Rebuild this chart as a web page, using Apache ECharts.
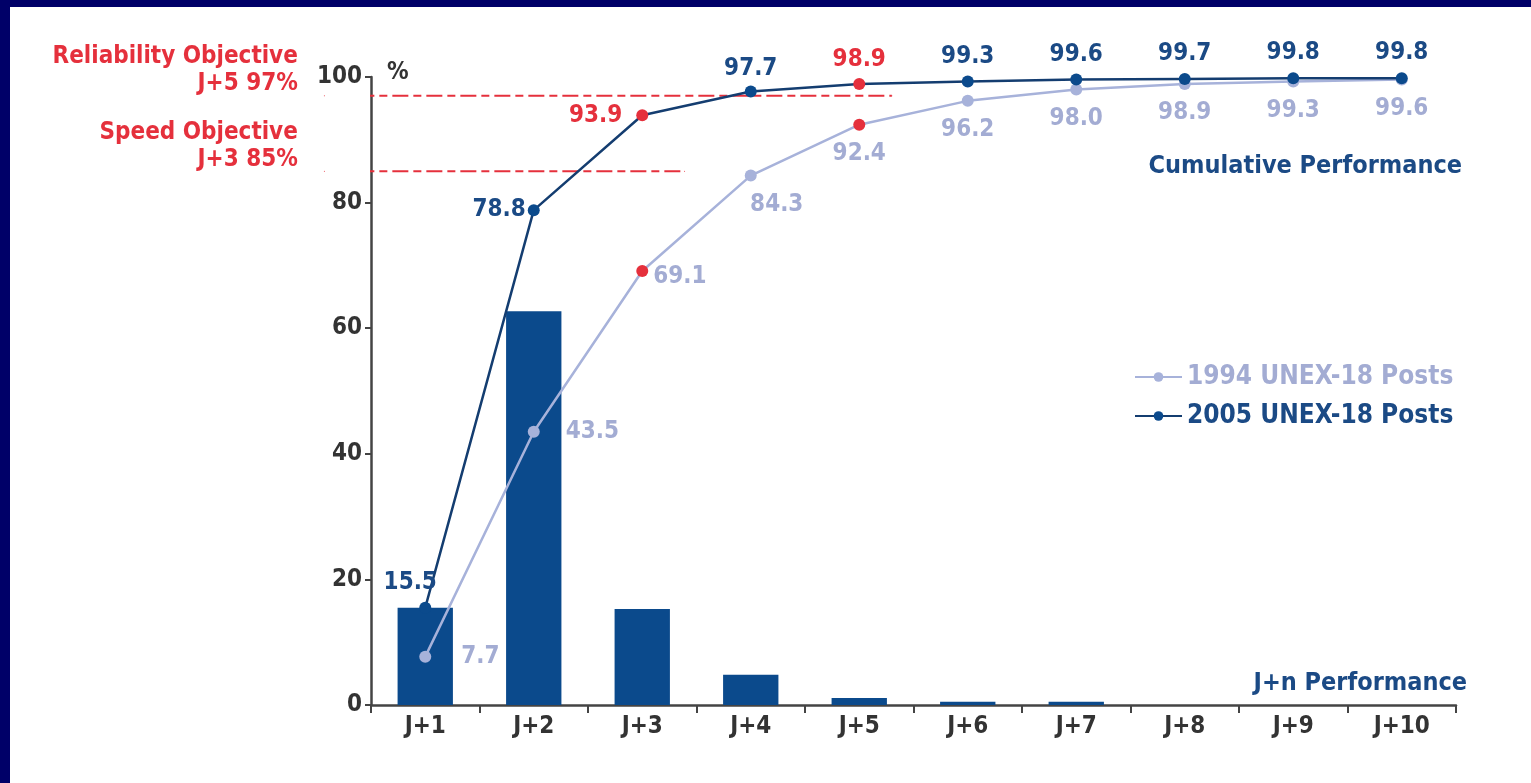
<!DOCTYPE html>
<html><head><meta charset="utf-8">
<script src="https://cdn.jsdelivr.net/npm/echarts@6/dist/echarts.min.js"></script>
<style>
html,body{margin:0;padding:0;background:#fff;}
#c{position:absolute;left:0;top:0;width:1531px;height:783px;}
.bl{position:absolute;left:0;top:0;width:10px;height:783px;background:#000068;z-index:5}
.bt{position:absolute;left:0;top:0;width:1531px;height:7px;background:#000068;z-index:5}
</style></head><body>
<div id="c"></div><div class="bl"></div><div class="bt"></div>
<script>
// ---- data ----
const categories = ['J+1','J+2','J+3','J+4','J+5','J+6','J+7','J+8','J+9','J+10'];
const daily2005 = [15.5, 62.7, 15.3, 4.8, 1.1, 0.5, 0.5, 0, 0, 0];
const cum2005 = [15.5, 78.8, 93.9, 97.7, 98.9, 99.3, 99.6, 99.7, 99.8, 99.8];
const cum1994 = [7.7, 43.5, 69.1, 84.3, 92.4, 96.2, 98.0, 98.9, 99.3, 99.6];
const objectiveCats = ['J+3', 'J+5'];
const reliabilityObjective = 97;
const speedObjective = 85;
const reliabilitySpan = [-0.43, 4.8];
const speedSpan = [-0.43, 2.89];
const yTicks = [0, 20, 40, 60, 80, 100];
const seriesNames = ['1994 UNEX-18 Posts', '2005 UNEX-18 Posts'];

// ---- styles ----
const FONT = "'Liberation Sans Narrow','DejaVu Sans Condensed','Roboto Condensed',sans-serif";
const NAVY = '#0b4a8c', NAVY_LINE = '#143d70', NAVY_TXT = '#1b4a85';
const LIGHT = '#a7b2da', LIGHT_TXT = '#a3acd3';
const RED = '#e5303c';

const lab2005 = [
  {position:'top', distance:7, offset:[-15,0]},
  {position:'left', distance:2},
  {position:'left', distance:14},
  {position:'top', distance:5},
  {position:'top', distance:6},
  {position:'top', distance:7},
  {position:'top', distance:7},
  {position:'top', distance:7},
  {position:'top', distance:7},
  {position:'top', distance:7}
];
const lab1994 = [
  {position:'right', distance:30},
  {position:'right', distance:26},
  {position:'right', distance:5, offset:[0,6]},
  {position:'bottom', distance:11, offset:[26,0]},
  {position:'bottom', distance:11},
  {position:'bottom', distance:11},
  {position:'bottom', distance:11},
  {position:'bottom', distance:11},
  {position:'bottom', distance:11},
  {position:'bottom', distance:11}
];

function buildLine(vals, labs, color, txtColor, redLabel) {
  return vals.map((v, i) => {
    const hi = objectiveCats.includes(categories[i]);
    return {
      value: v,
      itemStyle: {color: hi ? RED : color},
      label: Object.assign({}, labs[i], {color: (hi && redLabel) ? RED : txtColor})
    };
  });
}

const labelBase = {show:true, fontFamily:FONT, fontWeight:'bold', fontSize:24,
  formatter: p => Number(p.value).toFixed(1)};

const chart = echarts.init(document.getElementById('c'));
chart.setOption({
  animation:false,
  backgroundColor:'#fff',
  grid:{left:371, right:75, top:77, bottom:78, containLabel:false},
  legend:{
    left:1134, top:364, orient:'vertical', itemGap:13, itemWidth:47, itemHeight:12, padding:0,
    data:[
      {name:seriesNames[0], textStyle:{color:LIGHT_TXT}},
      {name:seriesNames[1], textStyle:{color:NAVY_TXT}}
    ],
    textStyle:{fontFamily:FONT, fontWeight:'bold', fontSize:26, padding:[0,0,0,0]},
    selectedMode:false
  },
  xAxis:[{
    type:'category', data:categories, boundaryGap:true,
    axisLine:{lineStyle:{color:'#444', width:2.5}},
    axisTick:{show:true, length:8, lineStyle:{color:'#444', width:2}},
    axisLabel:{color:'#333', fontFamily:FONT, fontWeight:'bold', fontSize:24, margin:10}
  },{
    type:'value', min:0, max:10, show:false
  }],
  yAxis:{
    type:'value', min:0, max:100, interval:20,
    name:'%', nameLocation:'end', nameGap:2,
    nameTextStyle:{color:'#333', fontFamily:FONT, fontWeight:'bold', fontSize:24, align:'left', verticalAlign:'bottom', padding:[0,0,-10,16]},
    axisLine:{show:true, lineStyle:{color:'#444', width:2.5}},
    axisTick:{show:true, length:6, lineStyle:{color:'#444', width:2}},
    splitLine:{show:false},
    axisLabel:{color:'#333', fontFamily:FONT, fontWeight:'bold', fontSize:24, margin:9,
      formatter:v => yTicks.includes(v) ? String(v) : ''}
  },
  graphic:[
    {type:'text', right:1531-1462, top:154, style:{text:'Cumulative Performance', fill:NAVY_TXT, font:"bold 25px "+FONT}},
    {type:'text', right:1531-1467, top:671, style:{text:'J+n Performance', fill:NAVY_TXT, font:"bold 25px "+FONT}}
  ],
  series:[
    {
      name:'J+n', type:'bar', data:daily2005, barWidth:'51%',
      itemStyle:{color:NAVY}, z:1
    },
    {
      name:'Reliability', type:'line', xAxisIndex:1, clip:false, silent:true,
      data:[
        {value:[reliabilitySpan[0], reliabilityObjective],
          label:{show:true, position:'left', distance:26, align:'right', verticalAlign:'bottom', offset:[0,1],
            formatter:'Reliability Objective\nJ+5 ' + reliabilityObjective + '%',
            color:RED, fontFamily:FONT, fontWeight:'bold', fontSize:24, lineHeight:27}},
        {value:[reliabilitySpan[1], reliabilityObjective]}
      ],
      symbol:'circle', symbolSize:1, itemStyle:{color:RED},
      lineStyle:{color:RED, width:2, type:[16,5,8,5]}, z:2
    },
    {
      name:'Speed', type:'line', xAxisIndex:1, clip:false, silent:true,
      data:[
        {value:[speedSpan[0], speedObjective],
          label:{show:true, position:'left', distance:26, align:'right', verticalAlign:'bottom', offset:[0,2],
            formatter:'Speed Objective\nJ+3 ' + speedObjective + '%',
            color:RED, fontFamily:FONT, fontWeight:'bold', fontSize:24, lineHeight:27}},
        {value:[speedSpan[1], speedObjective]}
      ],
      symbol:'circle', symbolSize:1, itemStyle:{color:RED},
      lineStyle:{color:RED, width:2, type:[16,5,8,5]}, z:2
    },
    {
      name:seriesNames[0], type:'line', data:buildLine(cum1994, lab1994, LIGHT, LIGHT_TXT, false),
      symbol:'circle', symbolSize:12, showSymbol:true,
      lineStyle:{color:LIGHT, width:2.5}, itemStyle:{color:LIGHT},
      label:labelBase, z:3
    },
    {
      name:seriesNames[1], type:'line', data:buildLine(cum2005, lab2005, NAVY, NAVY_TXT, true),
      symbol:'circle', symbolSize:12, showSymbol:true,
      lineStyle:{color:NAVY_LINE, width:2.5}, itemStyle:{color:NAVY},
      label:labelBase, z:4
    }
  ]
});
</script></body></html>
